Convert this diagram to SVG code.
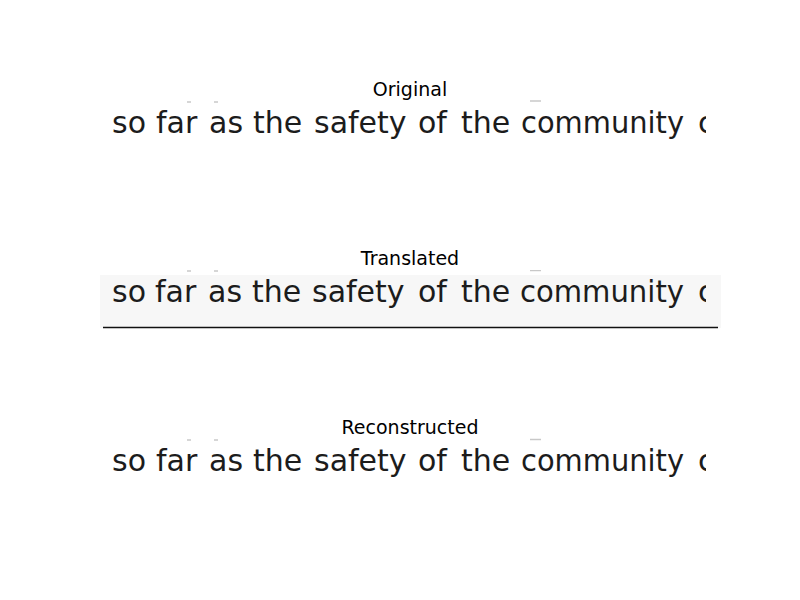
<svg xmlns="http://www.w3.org/2000/svg" width="800" height="600" viewBox="0 0 800 600">
<style>
.title{font-family:"DejaVu Sans",sans-serif;font-size:19px;fill:#000;text-anchor:middle}
.img{font-family:"DejaVu Sans",sans-serif;font-size:30px;fill:#1c1c1c}
.mark{stroke:#c8c8c8;stroke-width:1.5}
</style>
<defs>
<clipPath id="clipO"><rect x="100" y="100" width="606" height="42"/></clipPath>
<clipPath id="clipT"><rect x="100" y="270" width="606" height="62"/></clipPath>
<clipPath id="clipR"><rect x="100" y="437" width="606" height="42"/></clipPath>
</defs>
<rect width="800" height="600" fill="#fff"/>
<g id="original">
<text class="title" x="410" y="95.5">Original</text>
<g clip-path="url(#clipO)">
<line class="mark" x1="187" y1="102" x2="191" y2="102"/>
<line class="mark" x1="214" y1="102" x2="218" y2="102"/>
<line class="mark" x1="530" y1="101" x2="541" y2="101"/>
<text class="img" y="133"><tspan x="112">so</tspan><tspan x="156">far</tspan><tspan x="209">as</tspan><tspan x="253">the</tspan><tspan x="314">safety</tspan><tspan x="418">of</tspan><tspan x="461">the</tspan><tspan x="521" textLength="163" lengthAdjust="spacingAndGlyphs">community</tspan><tspan x="698">c</tspan></text>
</g>
</g>
<g id="translated">
<text class="title" x="410" y="265">Translated</text>
<rect x="100" y="275" width="621" height="53" fill="#f7f7f7"/>
<g clip-path="url(#clipT)">
<line class="mark" x1="187" y1="271" x2="191" y2="271"/>
<line class="mark" x1="214" y1="271" x2="218" y2="271"/>
<line class="mark" x1="530" y1="270.5" x2="541" y2="270.5"/>
<text class="img" y="301.5"><tspan x="112">so</tspan><tspan x="155">far</tspan><tspan x="208">as</tspan><tspan x="252">the</tspan><tspan x="312">safety</tspan><tspan x="418">of</tspan><tspan x="461">the</tspan><tspan x="520" textLength="164" lengthAdjust="spacingAndGlyphs">community</tspan><tspan x="698">c</tspan></text>
</g>
<line x1="103" y1="327.5" x2="718" y2="327.5" stroke="#111" stroke-width="1.5"/>
</g>
<g id="reconstructed">
<text class="title" x="410" y="434">Reconstructed</text>
<g clip-path="url(#clipR)">
<line class="mark" x1="187" y1="440" x2="191" y2="440"/>
<line class="mark" x1="214" y1="440" x2="218" y2="440"/>
<line class="mark" x1="530" y1="439.5" x2="541" y2="439.5"/>
<text class="img" y="470.5"><tspan x="112">so</tspan><tspan x="156">far</tspan><tspan x="209">as</tspan><tspan x="253">the</tspan><tspan x="314">safety</tspan><tspan x="418">of</tspan><tspan x="461">the</tspan><tspan x="521" textLength="163" lengthAdjust="spacingAndGlyphs">community</tspan><tspan x="698">c</tspan></text>
</g>
</g>
</svg>
